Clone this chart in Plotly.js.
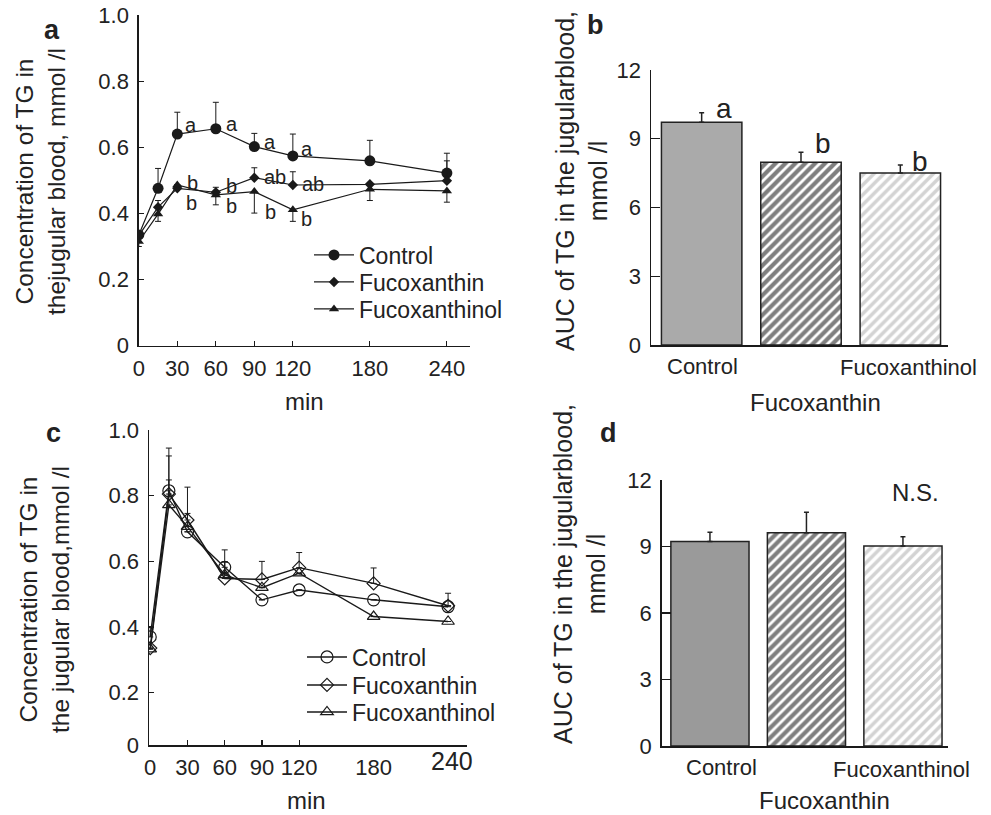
<!DOCTYPE html>
<html><head><meta charset="utf-8">
<script src="https://cdn.plot.ly/plotly-3.0.1.min.js"></script>
<style>html,body{margin:0;padding:0;background:#fff}#chart{width:991px;height:815px}</style>
</head><body><div id="chart"></div>
<script>
// ---------- data ----------
const timeMin = [0, 15, 30, 60, 90, 120, 180, 240];
const xTickValsA = [0, 30, 60, 90, 120, 180, 240];
const seriesNames = ['Control', 'Fucoxanthin', 'Fucoxanthinol'];

// panel a (TG, mmol/l)
const ctrlA = [0.335, 0.476, 0.640, 0.656, 0.602, 0.574, 0.559, 0.522];
const ctrlAErr = [0, 0.060, 0.066, 0.080, 0.040, 0.066, 0.062, 0.060];
const fucoA = [0.333, 0.419, 0.476, 0.464, 0.508, 0.486, 0.488, 0.499];
const fucoAErr = [0, 0.020, 0.010, 0.015, 0.030, 0.040, 0, 0.060];
const folA = [0.315, 0.398, 0.486, 0.456, 0.466, 0.411, 0.473, 0.468];
const folAErrMinus = [0.015, 0.022, 0, 0.030, 0.065, 0.035, 0.034, 0.034];
const lettersCtrlA = ['', '', 'a', 'a', 'a', 'a', '', ''];
const lettersFucoA = ['', '', 'b', 'b', 'ab', 'ab', '', ''];
const lettersFolA = ['', '', 'b', 'b', 'b', 'b', '', ''];

// panel c
const ctrlC = [0.370, 0.815, 0.690, 0.582, 0.483, 0.513, 0.483, 0.462];
const ctrlCErr = [0.030, 0.130, 0, 0.053, 0, 0, 0, 0.041];
const fucoC = [0.336, 0.805, 0.726, 0.548, 0.545, 0.581, 0.533, 0.465];
const fucoCErr = [0, 0.116, 0.100, 0.050, 0.055, 0.046, 0.047, 0];
const folC = [0.333, 0.772, 0.706, 0.559, 0.520, 0.564, 0.432, 0.417];
const folCErr = [0, 0.076, 0.040, 0.040, 0, 0, 0, 0];

// panels b and d (AUC)
const groups = ['Control', 'Fucoxanthin', 'Fucoxanthinol'];
const aucB = [9.72, 7.97, 7.51];
const aucBErr = [0.42, 0.44, 0.35];
const lettersB = ['a', 'b', 'b'];
const aucD = [9.22, 9.62, 9.02];
const aucDErr = [0.42, 0.92, 0.42];

const yTickValsA = [0, 0.2, 0.4, 0.6, 0.8, 1.0];
const yTickTextA = ['0', '0.2', '0.4', '0.6', '0.8', '1.0'];
const yTickValsAUC = [0, 3, 6, 9, 12];

// ---------- styling ----------
const FONT = 'Liberation Sans, Arial, Helvetica, sans-serif';
const TXT = '#222';
const LINE = '#1a1a1a';
const W = 991, H = 815;
const px = v => v / W, py = v => 1 - v / H;

const traces = [];
function lineTrace(name, y, err, errMinus, symbol, size, xa, ya, legend, lw) {
  const open = symbol.includes('open');
  traces.push({
    type: 'scatter', mode: 'lines+markers', name, x: timeMin, y,
    xaxis: xa, yaxis: ya, legend,
    line: {color: LINE, width: lw},
    marker: {symbol, size, color: LINE, line: {color: LINE, width: open ? 1.2 : 0}},
    error_y: {type: 'data', symmetric: false, array: err || y.map(() => 0),
              arrayminus: errMinus || y.map(() => 0),
              color: LINE, thickness: 1, width: 3}
  });
}
lineTrace(seriesNames[0], ctrlA, ctrlAErr, null, 'circle', 11, 'x', 'y', 'legend', 1.2);
lineTrace(seriesNames[1], fucoA, fucoAErr, null, 'diamond', 8, 'x', 'y', 'legend2', 1.2);
lineTrace(seriesNames[2], folA, null, folAErrMinus, 'triangle-up', 9, 'x', 'y', 'legend3', 1.2);

lineTrace(seriesNames[0], ctrlC, ctrlCErr, null, 'circle-open', 12, 'x3', 'y3', 'legend4', 1.4);
lineTrace(seriesNames[1], fucoC, fucoCErr, null, 'diamond-open', 10, 'x3', 'y3', 'legend5', 1.4);
lineTrace(seriesNames[2], folC, folCErr, null, 'triangle-up-open', 11, 'x3', 'y3', 'legend6', 1.4);

const fills = [
  {fg: null, shape: '', sol: 0},
  {fg: '#000000', shape: '/', sol: 0.6},
  {fg: '#a8a8a8', shape: '/', sol: 0.5}];
function barTraces(vals, errs, xa, ya, solid) {
  groups.forEach((g, i) => {
    const f = fills[i];
    const m = {color: f.shape ? '#ffffff' : solid, line: {color: '#222', width: 1.5}};
    if (f.shape) m.pattern = {shape: f.shape, fgcolor: f.fg, bgcolor: '#ffffff',
                              size: 7, solidity: f.sol, fillmode: 'overlay'};
    traces.push({
      type: 'bar', x: [g], y: [vals[i]], xaxis: xa, yaxis: ya, showlegend: false,
      width: 0.81, marker: m,
      error_y: {type: 'data', symmetric: false, array: [errs[i]], arrayminus: [0],
                color: '#222', thickness: 1.5, width: 2.5}
    });
  });
}
barTraces(aucB, aucBErr, 'x2', 'y2', '#aaaaaa');
barTraces(aucD, aucDErr, 'x4', 'y4', '#9a9a9a');

const tickFont = {family: FONT, size: 22, color: TXT};
const axBase = {showline: true, linecolor: LINE, linewidth: 1.5, showgrid: false,
  zeroline: false, ticks: 'inside', ticklen: 5, tickcolor: LINE, tickwidth: 1.2,
  tickfont: tickFont, fixedrange: true};

const yRangeC = [0.041, 1.0];   // lower segment of the reference axis is compressed
const yTickValsC = [yRangeC[0], 0.2, 0.4, 0.6, 0.8, 1.0];

const legFont = {family: FONT, size: 23, color: TXT};
function leg(x, yc) {
  return {x: px(x), y: py(yc), xanchor: 'left', yanchor: 'middle', bgcolor: 'rgba(0,0,0,0)',
          font: legFont, itemwidth: 40, borderwidth: 0};
}

const layout = {
  width: W, height: H, margin: {l: 0, r: 0, t: 0, b: 0},
  paper_bgcolor: '#fff', plot_bgcolor: 'rgba(0,0,0,0)',
  font: {family: FONT, color: TXT}, barmode: 'overlay',
  xaxis: Object.assign({}, axBase, {domain: [px(138.8), px(470)], range: [0, 258],
    tickmode: 'array', tickvals: xTickValsA, anchor: 'y', ticklabelstandoff: 2}),
  yaxis: Object.assign({}, axBase, {domain: [py(345.7), py(15)], range: [0, 1],
    tickmode: 'array', tickvals: yTickValsA, ticktext: yTickTextA, anchor: 'x', ticklabelstandoff: 4}),
  xaxis2: Object.assign({}, axBase, {domain: [px(651), px(948)], range: [-0.51, 2.48],
    ticks: '', showticklabels: false, anchor: 'y2', type: 'category'}),
  yaxis2: Object.assign({}, axBase, {domain: [py(345), py(70)], range: [0, 12],
    tickmode: 'array', tickvals: yTickValsAUC, anchor: 'x2', ticklen: 9, ticklabelstandoff: 4}),
  xaxis3: Object.assign({}, axBase, {domain: [px(149), px(466.7)], range: [-1, 255],
    tickmode: 'array', tickvals: xTickValsA, ticktext: xTickValsA.map(v => v === 240 ? '' : String(v)),
    ticks: '', anchor: 'y3', ticklabelstandoff: 2,
    minor: {tickmode: 'array', tickvals: [30, 60, 90, 120], ticks: 'inside', ticklen: 5, tickcolor: LINE, tickwidth: 1.2, showgrid: false}}),
  yaxis3: Object.assign({}, axBase, {domain: [py(745), py(430)], range: yRangeC,
    tickmode: 'array', tickvals: yTickValsC, ticktext: yTickTextA, anchor: 'x3', ticklabelstandoff: 4}),
  xaxis4: Object.assign({}, axBase, {domain: [px(661.7), px(948.3)], range: [-0.5, 2.47],
    ticks: '', showticklabels: false, anchor: 'y4', type: 'category'}),
  yaxis4: Object.assign({}, axBase, {domain: [py(746), py(480)], range: [0, 12],
    tickmode: 'array', tickvals: yTickValsAUC, anchor: 'x4', ticklen: 9, ticklabelstandoff: 4}),
  legend: leg(309, 255), legend2: leg(309, 282), legend3: leg(309, 309),
  legend4: leg(302, 657), legend5: leg(302, 685), legend6: leg(302, 712),
  annotations: []
};

const ann = layout.annotations;
function txt(text, x, y, size, opts) {
  ann.push(Object.assign({text, x, y, xref: 'paper', yref: 'paper', showarrow: false,
    xanchor: 'center', yanchor: 'middle', font: {family: FONT, size, color: TXT}}, opts || {}));
}
// panel letters
txt('<b>a</b>', px(52), py(30), 27);
txt('<b>b</b>', px(595), py(25), 27);
txt('<b>c</b>', px(53), py(433), 27);
txt('<b>d</b>', px(608), py(433), 27);
// axis titles
txt('Concentration of TG in<br>thejugular blood, mmol /l', px(40), py(182), 24.5, {textangle: -90});
txt('Concentration of TG in<br>the jugular blood,mmol /l', px(44), py(600), 24.5, {textangle: -90});
txt('AUC of TG in the jugularblood,<br>mmol /l', px(581), py(181), 25, {textangle: -90});
txt('AUC of TG in the jugularblood,<br>mmol /l', px(579), py(574), 25, {textangle: -90});
txt('min', px(304), py(401), 24);
txt('min', px(306), py(800), 24);
txt('N.S.', px(915), py(493), 24);
// panel c last tick label (drawn larger and higher in the reference)
ann.push({text: '240', x: xTickValsA[xTickValsA.length - 1], y: py(761), xref: 'x3', yref: 'paper',
  xshift: 4, xanchor: 'center', yanchor: 'middle', showarrow: false,
  font: {family: FONT, size: 25, color: TXT}});

// category labels for bar panels
const catShiftB = [1, 15, 8], catShiftD = [12, 18, -1];
const catYB = [py(366), py(402), py(367)], catYD = [py(767), py(800), py(769)];
const catSize = [22, 24, 22];
groups.forEach((g, i) => {
  ann.push({text: g, x: g, xref: 'x2', y: catYB[i], yref: 'paper', xshift: catShiftB[i],
    xanchor: 'center', yanchor: 'middle', showarrow: false,
    font: {family: FONT, size: catSize[i], color: TXT}});
  ann.push({text: g, x: g, xref: 'x4', y: catYD[i], yref: 'paper', xshift: catShiftD[i],
    xanchor: 'center', yanchor: 'middle', showarrow: false,
    font: {family: FONT, size: catSize[i], color: TXT}});
});
// significance letters panel b
const letBShift = [[22, 4], [22, 9], [20, 3]];
lettersB.forEach((l, i) => {
  ann.push({text: l, x: groups[i], y: aucB[i] + aucBErr[i], xref: 'x2', yref: 'y2',
    xshift: letBShift[i][0], yshift: letBShift[i][1], xanchor: 'center', yanchor: 'middle',
    showarrow: false, font: {family: FONT, size: 28, color: TXT}});
});
// significance letters panel a
function letters(arr, vals, dx, dy) {
  arr.forEach((l, i) => {
    if (!l) return;
    ann.push({text: l, x: timeMin[i], y: vals[i], xref: 'x', yref: 'y',
      xshift: dx[i], yshift: dy[i], xanchor: 'center', yanchor: 'middle', showarrow: false,
      font: {family: FONT, size: 20, color: TXT}});
  });
}
letters(lettersCtrlA, ctrlA, [0, 0, 14, 16, 16, 14, 0, 0], [0, 0, 9, 5, 5, 7, 0, 0]);
letters(lettersFucoA, fucoA, [0, 0, 15, 16, 21, 20, 0, 0], [0, 0, 5, 6, 1, 1, 0, 0]);
letters(lettersFolA, folA, [0, 0, 14, 16, 16, 14, 0, 0], [0, 0, -18, -11, -20, -9, 0, 0]);

Plotly.newPlot('chart', traces, layout, {displayModeBar: false, staticPlot: true});
</script></body></html>
